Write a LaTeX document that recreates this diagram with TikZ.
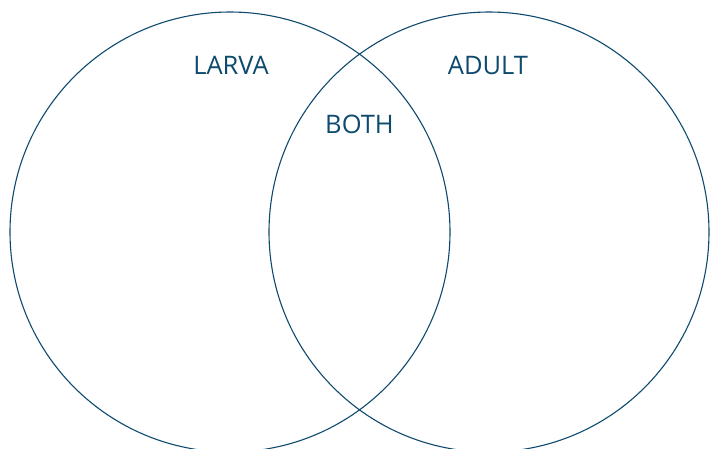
\documentclass[tikz,border=0pt]{standalone}
\usepackage{fontspec}
\setmainfont{Open Sans}
\definecolor{venn}{HTML}{0E4A6E}
\begin{document}
\begin{tikzpicture}[x=1pt,y=-1pt,
  ring/.style={draw=venn,line width=1.1pt},
  lbl/.style={text=venn,font=\fontsize{25.5}{28}\selectfont,inner sep=0pt,anchor=base}]
\useasboundingbox (0,0) rectangle (710,448);
\clip (0,0) rectangle (710,448);
\draw[ring] (230,232) circle[radius=220] coordinate (lc);
\draw[ring] (489,232) circle[radius=220] coordinate (rc);
\node[lbl] (larva) at (231,74) {LARVA};
\node[lbl] (adult) at (488,74) {ADULT};
\node[lbl] (both) at (359.5,133) {BOTH};
\end{tikzpicture}
\end{document}
